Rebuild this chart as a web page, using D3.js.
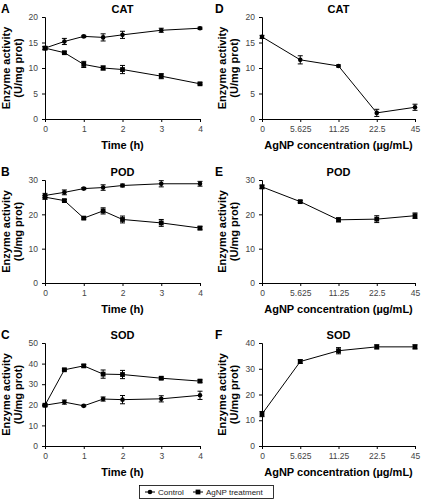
<!DOCTYPE html>
<html><head><meta charset="utf-8">
<script src="https://cdn.jsdelivr.net/npm/d3@7"></script>
<style>body{margin:0;background:#fff}svg{display:block}text{font-family:"Liberation Sans",Arial,sans-serif}</style>
</head><body>
<svg id="c" width="422" height="500"></svg>
<script>
const timeX = [0, 0.5, 1, 1.5, 2, 3, 4];
const timeTicks = [0, 1, 2, 3, 4];
const concCats = ["0", "5.625", "11.25", "22.5", "45"];

const catControl = [13.9, 15.2, 16.2, 16.0, 16.5, 17.4, 17.8];
const catControlErr = [0.3, 0.6, 0.2, 0.7, 0.7, 0.4, 0.2];
const catTreat = [13.9, 13.0, 10.7, 10.0, 9.7, 8.4, 6.9];
const catTreatErr = [0.3, 0.2, 0.6, 0.4, 0.8, 0.5, 0.2];

const podControl = [25.5, 26.4, 27.5, 27.8, 28.4, 28.9, 28.9];
const podControlErr = [0.6, 0.7, 0.3, 0.8, 0.4, 0.9, 0.7];
const podTreat = [25.0, 24.0, 18.9, 21.0, 18.5, 17.5, 16.0];
const podTreatErr = [0.6, 0.3, 0.3, 0.9, 1.0, 1.0, 0.5];

const sodControl = [19.8, 21.3, 19.5, 22.8, 22.5, 22.9, 24.6];
const sodControlErr = [0.5, 1.0, 0.4, 1.0, 2.0, 1.5, 2.0];
const sodTreat = [19.8, 37.0, 38.9, 34.9, 34.7, 32.9, 31.5];
const sodTreatErr = [0.5, 0.5, 0.7, 2.0, 2.0, 0.6, 0.6];

const catConc = [16.1, 11.6, 10.4, 1.2, 2.3];
const catConcErr = [0.3, 0.8, 0.2, 0.7, 0.6];
const podConc = [28.0, 23.7, 18.4, 18.6, 19.6];
const podConcErr = [0.5, 0.3, 0.6, 1.0, 0.8];
const sodConc = [12.4, 32.8, 37.0, 38.5, 38.5];
const sodConcErr = [1.0, 0.7, 1.2, 0.8, 0.8];

const svg = d3.select("#c");
const rows = [{top:17, bot:119}, {top:180, bot:283}, {top:343, bot:446}];
const leftX = [45, 200], rightX = [262, 415];

function marker(g, x, y, shape){
  if(shape === "circle") g.append("circle").attr("cx", x).attr("cy", y).attr("r", 2.3).attr("fill", "#000");
  else g.append("rect").attr("x", x-2.4).attr("y", y-2.4).attr("width", 4.8).attr("height", 4.8).attr("fill", "#000");
}

function panel(opt){
  const g = svg.append("g");
  const y = d3.scaleLinear().domain([0, opt.ymax]).range([opt.row.bot, opt.row.top]);
  let x;
  if(opt.time){
    x = d3.scaleLinear().domain([0, 4]).range(opt.xr);
  } else {
    x = d3.scalePoint().domain(concCats).range(opt.xr);
  }
  const yAxis = d3.axisLeft(y).tickValues(d3.range(0, opt.ymax + 0.001, opt.ystep)).tickFormat(d3.format("d")).tickSize(3).tickPadding(4);
  const xAxis = opt.time ? d3.axisBottom(x).tickValues(timeTicks).tickFormat(d3.format("d")).tickSize(3).tickPadding(4)
                         : d3.axisBottom(x).tickSize(3).tickPadding(4);
  const ga = g.append("g").attr("transform", `translate(${opt.xr[0]},0)`).call(yAxis);
  const gb = g.append("g").attr("transform", `translate(0,${opt.row.bot})`).call(xAxis);
  [ga, gb].forEach(a => {
    a.select(".domain").attr("stroke", "#000").attr("stroke-width", 1);
    a.selectAll(".tick line").attr("stroke", "#000");
    a.selectAll(".tick text").attr("font-size", 8.5).attr("fill", "#444").attr("font-family", '"Liberation Sans",Arial,sans-serif');
  });
  const xm = (opt.xr[0] + opt.xr[1]) / 2;
  g.append("text").attr("x", xm).attr("y", opt.row.top - 4).attr("text-anchor", "middle")
    .attr("font-size", 11).attr("font-weight", "bold").text(opt.title);
  g.append("text").attr("x", opt.letterX).attr("y", opt.row.top - 4).attr("font-size", 12).attr("font-weight", "bold").text(opt.letter);
  g.append("text").attr("x", xm).attr("y", opt.row.bot + 30).attr("text-anchor", "middle")
    .attr("font-size", 11).attr("font-weight", "bold").text(opt.xtitle);
  const ym = (opt.row.top + opt.row.bot) / 2;
  const yl = g.append("text").attr("transform", `translate(${opt.ylabX},${ym}) rotate(-90)`).attr("text-anchor", "middle")
    .attr("font-size", 11).attr("font-weight", "bold");
  yl.append("tspan").attr("x", 0).attr("dy", 0).text("Enzyme activity");
  yl.append("tspan").attr("x", 0).attr("dy", 12).text("(U/mg prot)");

  opt.series.forEach(s => {
    const xs = opt.time ? timeX : concCats;
    const pts = xs.map((xv, i) => [x(xv), y(s.v[i]), s.e[i]]);
    g.append("path").attr("d", d3.line()(pts.map(p => [p[0], p[1]]))).attr("fill", "none").attr("stroke", "#000").attr("stroke-width", 1);
    pts.forEach((p, i) => {
      const y1 = y(s.v[i] + p[2]), y2 = y(s.v[i] - p[2]);
      g.append("line").attr("x1", p[0]).attr("x2", p[0]).attr("y1", y1).attr("y2", y2).attr("stroke", "#000");
      g.append("line").attr("x1", p[0]-2.5).attr("x2", p[0]+2.5).attr("y1", y1).attr("y2", y1).attr("stroke", "#000");
      g.append("line").attr("x1", p[0]-2.5).attr("x2", p[0]+2.5).attr("y1", y2).attr("y2", y2).attr("stroke", "#000");
      marker(g, p[0], p[1], s.shape);
    });
  });
}

panel({row: rows[0], xr: leftX, ymax: 20, ystep: 5, time: true, title: "CAT", letter: "A", letterX: 1, ylabX: 10, xtitle: "Time (h)",
  series: [{v: catControl, e: catControlErr, shape: "circle"}, {v: catTreat, e: catTreatErr, shape: "square"}]});
panel({row: rows[1], xr: leftX, ymax: 30, ystep: 10, time: true, title: "POD", letter: "B", letterX: 1, ylabX: 10, xtitle: "Time (h)",
  series: [{v: podControl, e: podControlErr, shape: "circle"}, {v: podTreat, e: podTreatErr, shape: "square"}]});
panel({row: rows[2], xr: leftX, ymax: 50, ystep: 10, time: true, title: "SOD", letter: "C", letterX: 1, ylabX: 10, xtitle: "Time (h)",
  series: [{v: sodControl, e: sodControlErr, shape: "circle"}, {v: sodTreat, e: sodTreatErr, shape: "square"}]});
panel({row: rows[0], xr: rightX, ymax: 20, ystep: 5, time: false, title: "CAT", letter: "D", letterX: 215, ylabX: 226, xtitle: "AgNP concentration (\u00b5g/mL)",
  series: [{v: catConc, e: catConcErr, shape: "circle"}]});
panel({row: rows[1], xr: rightX, ymax: 30, ystep: 10, time: false, title: "POD", letter: "E", letterX: 215, ylabX: 226, xtitle: "AgNP concentration (\u00b5g/mL)",
  series: [{v: podConc, e: podConcErr, shape: "square"}]});
panel({row: rows[2], xr: rightX, ymax: 40, ystep: 10, time: false, title: "SOD", letter: "F", letterX: 215, ylabX: 226, xtitle: "AgNP concentration (\u00b5g/mL)",
  series: [{v: sodConc, e: sodConcErr, shape: "square"}]});

// legend
const leg = svg.append("g");
leg.append("rect").attr("x", 139.5).attr("y", 485.5).attr("width", 134).attr("height", 13).attr("fill", "#fff").attr("stroke", "#000").attr("stroke-width", 0.8);
const legItems = [{label: "Control", shape: "circle", x: 145}, {label: "AgNP treatment", shape: "square", x: 193}];
legItems.forEach(it => {
  leg.append("line").attr("x1", it.x).attr("x2", it.x + 10).attr("y1", 492).attr("y2", 492).attr("stroke", "#000");
  marker(leg, it.x + 5, 492, it.shape);
  leg.append("text").attr("x", it.x + 13).attr("y", 495).attr("font-size", 8).attr("fill", "#222").text(it.label);
});
</script>
</body></html>
